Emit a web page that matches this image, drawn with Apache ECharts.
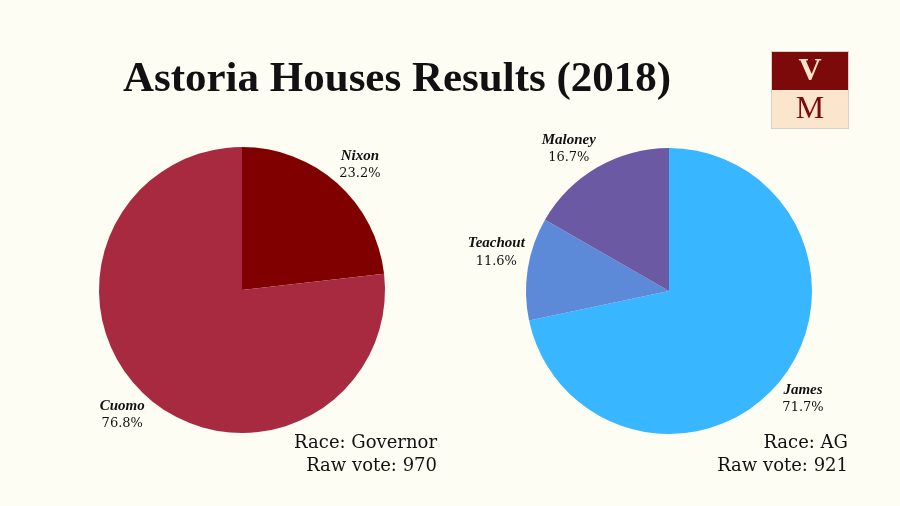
<!DOCTYPE html>
<html><head><meta charset="utf-8">
<script src="https://cdn.jsdelivr.net/npm/echarts@6/dist/echarts.min.js"></script>
<style>html,body{margin:0;padding:0;background:#fdfdf4;}#c{width:900px;height:506px;}</style>
</head><body><div id="c"></div>
<script>
const titleText = 'Astoria Houses Results (2018)';
const govNames = ['Nixon', 'Cuomo'];
const govValues = [23.2, 76.8];
const govColors = ['#800000', '#a72a40'];
const govInfo = ['Race: Governor', 'Raw vote: 970'];
const agNames = ['James', 'Teachout', 'Maloney'];
const agValues = [71.7, 11.6, 16.7];
const agColors = ['#38b6ff', '#5c8ad8', '#6b59a4'];
const agInfo = ['Race: AG', 'Raw vote: 921'];

const serif = '"Liberation Serif", "DejaVu Serif", serif';
const serif2 = '"DejaVu Serif", "Liberation Serif", serif';
const chart = echarts.init(document.getElementById('c'), null, {renderer: 'canvas'});

function mkData(names, vals, cols) {
  return names.map((n, i) => ({name: n, value: vals[i], itemStyle: {color: cols[i]}}));
}
function labelLayout(params) {
  const pts = params.labelLinePoints;
  if (!pts) return {};
  const p0 = pts[0], p1 = pts[1];
  let dx = p1[0] - p0[0], dy = p1[1] - p0[1];
  const L = Math.hypot(dx, dy) || 1; dx /= L; dy /= L;
  const hw = params.labelRect.width / 2, hh = params.labelRect.height / 2;
  const gap = 3;
  return {
    x: p0[0] + dx * gap + Math.sign(dx) * hw,
    y: p0[1] + dy * gap + Math.sign(dy) * hh,
    align: 'center', verticalAlign: 'middle'
  };
}
const lbl = {
  show: true, position: 'outside',
  formatter: p => '{n|' + p.name + '}\n{p|' + p.value.toFixed(1) + '%}',
  rich: {
    n: {fontFamily: serif, fontStyle: 'italic', fontWeight: 'bold', fontSize: 15, color: '#111', lineHeight: 18, align: 'center'},
    p: {fontFamily: serif2, fontSize: 13, color: '#111', lineHeight: 18, align: 'center'}
  }
};
function pie(center, data) {
  return {
    type: 'pie', center: center, radius: 143, startAngle: 90, clockwise: true,
    data: data, label: lbl, labelLayout: labelLayout,
    labelLine: {show: true, length: 10, length2: 0, lineStyle: {width: 0, opacity: 0}},
    emphasis: {disabled: true}, animation: false, silent: true
  };
}
chart.setOption({
  backgroundColor: '#fdfdf4',
  animation: false,
  title: {
    text: titleText, left: 392, top: 53, textAlign: 'center',
    textStyle: {fontFamily: serif, fontSize: 43, fontWeight: 'bold', color: '#111'}
  },
  graphic: [
    {type: 'rect', shape: {x: 771, y: 51, width: 78, height: 78}, style: {fill: '#d8d0c4'}},
    {type: 'rect', shape: {x: 772, y: 52, width: 76, height: 38}, style: {fill: '#7d0a0a'}},
    {type: 'rect', shape: {x: 772, y: 90, width: 76, height: 38}, style: {fill: '#fbe5cc'}},
    {type: 'text', style: {x: 810, y: 72, text: 'V', fill: '#fbe5cc', font: 'bold 32px ' + serif, textAlign: 'center', textVerticalAlign: 'middle'}},
    {type: 'text', style: {x: 810, y: 110, text: 'M', fill: '#7d0a0a', font: '32px ' + serif, textAlign: 'center', textVerticalAlign: 'middle'}},
    {type: 'text', style: {x: 437, y: 443, text: govInfo[0], fill: '#111', font: '18px ' + serif2, textAlign: 'right', textVerticalAlign: 'middle'}},
    {type: 'text', style: {x: 437, y: 466, text: govInfo[1], fill: '#111', font: '18px ' + serif2, textAlign: 'right', textVerticalAlign: 'middle'}},
    {type: 'text', style: {x: 848, y: 443, text: agInfo[0], fill: '#111', font: '18px ' + serif2, textAlign: 'right', textVerticalAlign: 'middle'}},
    {type: 'text', style: {x: 848, y: 466, text: agInfo[1], fill: '#111', font: '18px ' + serif2, textAlign: 'right', textVerticalAlign: 'middle'}}
  ],
  series: [
    pie([242, 290], mkData(govNames, govValues, govColors)),
    pie([669, 291], mkData(agNames, agValues, agColors))
  ]
});
</script></body></html>
